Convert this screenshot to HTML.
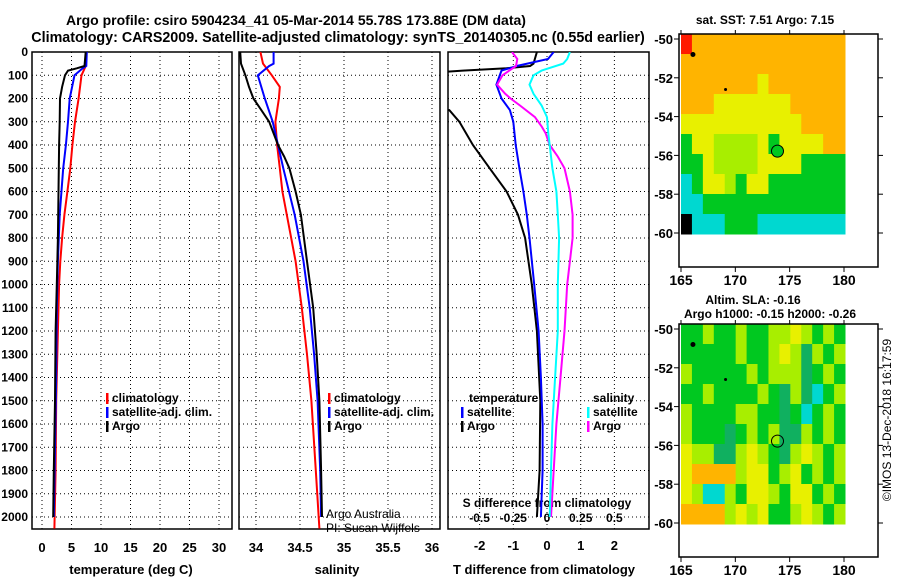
<!DOCTYPE html>
<html><head><meta charset="utf-8"><style>
body{margin:0;background:#fff}
svg{display:block;font-family:"Liberation Sans",sans-serif;font-weight:bold}
</style></head><body>
<svg id="c" width="900" height="580" viewBox="0 0 900 580" xmlns="http://www.w3.org/2000/svg">
<text x="296" y="25" font-size="14" text-anchor="middle">Argo profile: csiro 5904234_41 05-Mar-2014 55.78S 173.88E (DM data)</text>
<text x="338" y="42" font-size="14.3" text-anchor="middle">Climatology: CARS2009. Satellite-adjusted climatology: synTS_20140305.nc (0.55d earlier)</text>
<g id="g"></g>
</svg>
<script>
// ---- data ----
const depthTicks=[0,100,200,300,400,500,600,700,800,900,1000,1100,1200,1300,1400,1500,1600,1700,1800,1900,2000];
const tTicks=[0,5,10,15,20,25,30];
const sTicks=[34,34.5,35,35.5,36];
const dTTicks=[-2,-1,0,1,2];
const dSTicks=[-0.5,-0.25,0,0.25,0.5];
const dSLabels=["-0.5","-0.25","0","0.25","0.5"];
const argoTd=[0,60,70,80,100,150,200,300,400,600,800,1000,1200,1500,1800,2000];
const argoT=[7.4,7.2,5.9,4.4,3.9,3.4,3.05,3.0,2.9,2.8,2.7,2.5,2.3,2.2,2.0,1.9];
const satTd=[0,60,70,100,200,300,400,500,700,900,1100,1400,1700,2000];
const satT=[7.6,7.5,6.9,5.5,4.7,4.4,4.05,3.6,3.0,2.7,2.5,2.4,2.2,2.0];
const climTd=[0,60,100,200,300,400,500,600,700,800,900,1000,1200,1500,1800,2050];
const climT=[7.5,7.4,6.7,6.2,5.6,5.15,4.8,4.3,3.8,3.4,3.1,2.9,2.7,2.4,2.3,2.1];
const argoSd=[0,50,100,150,200,250,300,350,400,450,500,600,700,900,1100,1300,1500,1800,2000];
const argoS=[33.82,33.83,33.88,33.92,33.97,34.06,34.15,34.2,34.25,34.32,34.38,34.45,34.51,34.58,34.65,34.69,34.72,34.74,34.75];
const satSd=[0,50,60,100,200,300,400,500,700,900,1100,1300,1500,1800,2000];
const satS=[34.2,34.2,34.15,34.02,34.1,34.19,34.25,34.31,34.44,34.54,34.61,34.66,34.7,34.73,34.74];
const climSd=[0,50,100,150,200,300,400,500,600,700,900,1100,1300,1500,1800,2050];
const climS=[34.05,34.08,34.18,34.27,34.26,34.22,34.24,34.27,34.3,34.35,34.45,34.52,34.58,34.63,34.68,34.72];
const argoDTd=[0,50,60,70,80,90,240,250,300,400,500,600,700,800,1000,1200,1500,1800,2000];
const argoDT=[-0.3,-0.4,-0.5,-1.2,-2.5,-3.5,-3.5,-2.9,-2.6,-2.2,-1.7,-1.2,-0.86,-0.65,-0.45,-0.3,-0.2,-0.22,-0.3];
const satDTd=[0,30,60,80,120,140,200,250,300,400,500,600,700,800,1000,1200,1400,1600,1800,2000];
const satDT=[0.2,0.03,-0.9,-1.35,-1.45,-1.5,-1.35,-1.1,-1.0,-0.93,-0.82,-0.7,-0.6,-0.52,-0.38,-0.25,-0.18,-0.13,-0.13,-0.18];
const argoDSd=[0,30,60,80,100,140,180,200,230,280,320,350,400,450,500,550,600,700,800,900,1000,1200,1400,1600,1800,2000];
const argoDS=[-0.26,-0.22,-0.23,-0.28,-0.33,-0.37,-0.31,-0.27,-0.2,-0.09,-0.04,-0.01,0.02,0.08,0.13,0.15,0.17,0.19,0.19,0.17,0.15,0.13,0.1,0.07,0.05,0.03];
const satDSd=[0,30,50,80,100,140,180,230,280,350,400,500,600,700,800,1000,1200,1400,1600,1800,2000];
const satDS=[0.17,0.15,0.12,-0.04,-0.1,-0.13,-0.1,-0.04,0.0,0.01,0.02,0.04,0.07,0.08,0.09,0.08,0.08,0.06,0.04,0.03,0.02];
const lonTicks=[165,170,175,180];
const latTicks=[-50,-52,-54,-56,-58,-60];
const sstGrid=["ROOOOOOOOOOOOOO","OOOOOOOOOOOOOOO","OOOOOOOYOOOOOOO","OOOYYYYYYYOOOOO","YYYYYYYYYYYOOOO","GYYLLLLYGYYYYOO","GGYLLLLYYYYGGGG","CGYYLGYYGGGGGGG","CCGGGGGGGGGGGGG","KCCCGGGCCCCCCCC"];
const slaGrid=["GGLGGLGGLLYLGLG","GGGGGLGGLYLDLGL","LGGGGGLGLLLDGLG","GGLGGGGLGDLDCGL","LGGGGLLGGDGCGLG","LGGGDGLGLDDLGLG","YLLDDLYLGDLYLGL","YOOOOLYYGLYGLGL","YLCCLGYYLGYYGLG","OOOOLYLYGGLYLGL"];
const argoLon=173.88, argoLat=-55.78;
// ---- geometry ----
const NS='http://www.w3.org/2000/svg', G=document.getElementById('g');
function mk(tag,at,parent){const e=document.createElementNS(NS,tag);for(const k in at)e.setAttribute(k,at[k]);(parent||G).appendChild(e);return e;}
const Y0=52,YK=0.2325,PB=529;
const yD=d=>Y0+d*YK;
const xT=t=>42+t*5.9, xS=s=>256+(s-34)*88, xdT=t=>547+t*33.7, xdS=s=>547+s*134.8;
const panels=[[32,232],[239,440],[448,649]];
function dotted(x1,y1,x2,y2){const l=mk('line',{x1,y1,x2,y2,stroke:'#000','stroke-width':1,'stroke-dasharray':'1,3'});

}
function txt(x,y,s,size,anchor,fill){const t=mk('text',{x,y,'font-size':size||12,'text-anchor':anchor||'middle',fill:fill||'#000'});t.textContent=s;return t;}
panels.forEach((p,i)=>{
  const r=mk('rect',{x:p[0],y:Y0,width:p[1]-p[0],height:PB-Y0,fill:'none',stroke:'#000','stroke-width':1.5});
  
  
  depthTicks.forEach(d=>{dotted(p[0],yD(d),p[1],yD(d));});
});
depthTicks.forEach(d=>{const t=txt(28,yD(d)+4,String(d),12,'end');

});
tTicks.forEach(v=>{dotted(xT(v),Y0,xT(v),PB);const t=txt(xT(v),552,String(v),13);

});
sTicks.forEach(v=>{dotted(xS(v),Y0,xS(v),PB);const t=txt(xS(v),552,String(v),13);

});
dTTicks.forEach(v=>{dotted(xdT(v),Y0,xdT(v),PB);const t=txt(xdT(v),550,String(v),13);

});
dSTicks.forEach((v,i)=>{const t=txt(xdS(v),522,dSLabels[i],12);

});
[[131,'temperature (deg C)','x-axis-title-temperature'],[337,'salinity','x-axis-title-salinity'],[544,'T difference from climatology','x-axis-title-t-diff']].forEach(a=>{const t=txt(a[0],574,a[1],13);

});
{const t=txt(547,507,'S difference from climatology',12);

}
panels.forEach((p,i)=>{const cp=mk('clipPath',{id:'cp'+i});mk('rect',{x:p[0],y:Y0,width:p[1]-p[0],height:PB-Y0},cp);});
function series(ds,vs,fx,color,name,ci){
  const pts=ds.map((d,i)=>fx(vs[i]).toFixed(1)+','+yD(d).toFixed(1)).join(' ');
  const l=mk('polyline',{points:pts,fill:'none',stroke:color,'stroke-width':2,'clip-path':'url(#cp'+ci+')'});
  
  
}
series(climTd,climT,xT,'#f00','climatology-temperature-line',0);
series(satTd,satT,xT,'#00f','satellite-temperature-line',0);
series(argoTd,argoT,xT,'#000','argo-temperature-line',0);
series(climSd,climS,xS,'#f00','climatology-salinity-line',1);
series(satSd,satS,xS,'#00f','satellite-salinity-line',1);
series(argoSd,argoS,xS,'#000','argo-salinity-line',1);
series(argoDTd,argoDT,xdT,'#000','argo-t-diff-line',2);
series(satDTd,satDT,xdT,'#00f','satellite-t-diff-line',2);
series(argoDSd,argoDS,xdS,'#f0f','argo-s-diff-line',2);
series(satDSd,satDS,xdS,'#0ff','satellite-s-diff-line',2);
function legend(x,y,items){items.forEach((it,i)=>{
  mk('rect',{x:x,y:y+i*14-9,width:2.5,height:11,fill:it[1]});
  const t=txt(x+6,y+i*14,it[0],12,'start');
  
  });}
const lg=[['climatology','#f00'],['satellite-adj. clim.','#00f'],['Argo','#000']];
legend(106,402,lg);legend(328,402,lg);
{const t=txt(469,402,'temperature',12,'start');}
legend(461,416,[['satellite','#00f'],['Argo','#000']]);
{const t=txt(593,402,'salinity',12,'start');}
legend(587,416,[['satellite','#0ff'],['Argo','#f0f']]);
[['Argo Australia',518],['PI: Susan Wijffels',532]].forEach(a=>{const t=txt(326,a[1],a[0],12,'start');t.setAttribute('font-weight','normal');

});
// ---- maps ----
const colors={R:'#ff1a00',O:'#ffb400',Y:'#e8f000',L:'#a8ee00',G:'#00c820',D:'#10b060',C:'#00d8d0',B:'#0080ff',K:'#000'};
const lonX=l=>681+(l-165)*(163/15);
function map(top,grid,name,fillCircle){
  const latY=lat=>top+5+(-50-lat)*19.4;
  const cols=grid[0].length, rows=grid.length, cw=164/cols, ch=200/rows;
  grid.forEach((row,r)=>{[...row].forEach((c,k)=>{
    const e=mk('rect',{x:(681+k*cw).toFixed(2),y:(top+r*ch).toFixed(2),width:(cw+0.5).toFixed(2),height:(ch+0.5).toFixed(2),fill:colors[c]});
    
    
  });});
  const b=mk('rect',{x:679,y:top,width:199,height:233,fill:'none',stroke:'#000','stroke-width':1.5});
  
  
  latTicks.forEach(l=>{const y=latY(l);mk('line',{x1:674,y1:y,x2:679,y2:y,stroke:'#000'});mk('line',{x1:878,y1:y,x2:883,y2:y,stroke:'#000'});
    const t=txt(673,y+5,String(l),13,'end');});
  lonTicks.forEach(l=>{const x=lonX(l);mk('line',{x1:x,y1:top,x2:x,y2:top-4,stroke:'#000'});mk('line',{x1:x,y1:top+233,x2:x,y2:top+238,stroke:'#000'});
    const t=txt(x,top+251,String(l),14);});
  const c=mk('circle',{cx:lonX(argoLon),cy:latY(argoLat),r:6,fill:fillCircle?'#00c820':'none',stroke:'#000','stroke-width':1});
  
  
  mk('circle',{cx:lonX(166.1),cy:latY(-50.8),r:2.5,fill:'#000'});
  mk('circle',{cx:lonX(169.1),cy:latY(-52.6),r:1.5,fill:'#000'});
}
map(34,sstGrid,'sst-map',true);
map(324,slaGrid,'sla-map',false);
{const t=txt(765,24,'sat. SST: 7.51 Argo: 7.15',12);}
{const t=txt(753,304,'Altim. SLA: -0.16',12);}
{const t=txt(770,318,'Argo h1000: -0.15 h2000: -0.26',12);}
{const t=txt(0,0,'©IMOS 13-Dec-2018 16:17:59',12);t.setAttribute('font-weight','normal');t.setAttribute('transform','translate(891,420) rotate(-90)');
}
</script>
</body></html>
